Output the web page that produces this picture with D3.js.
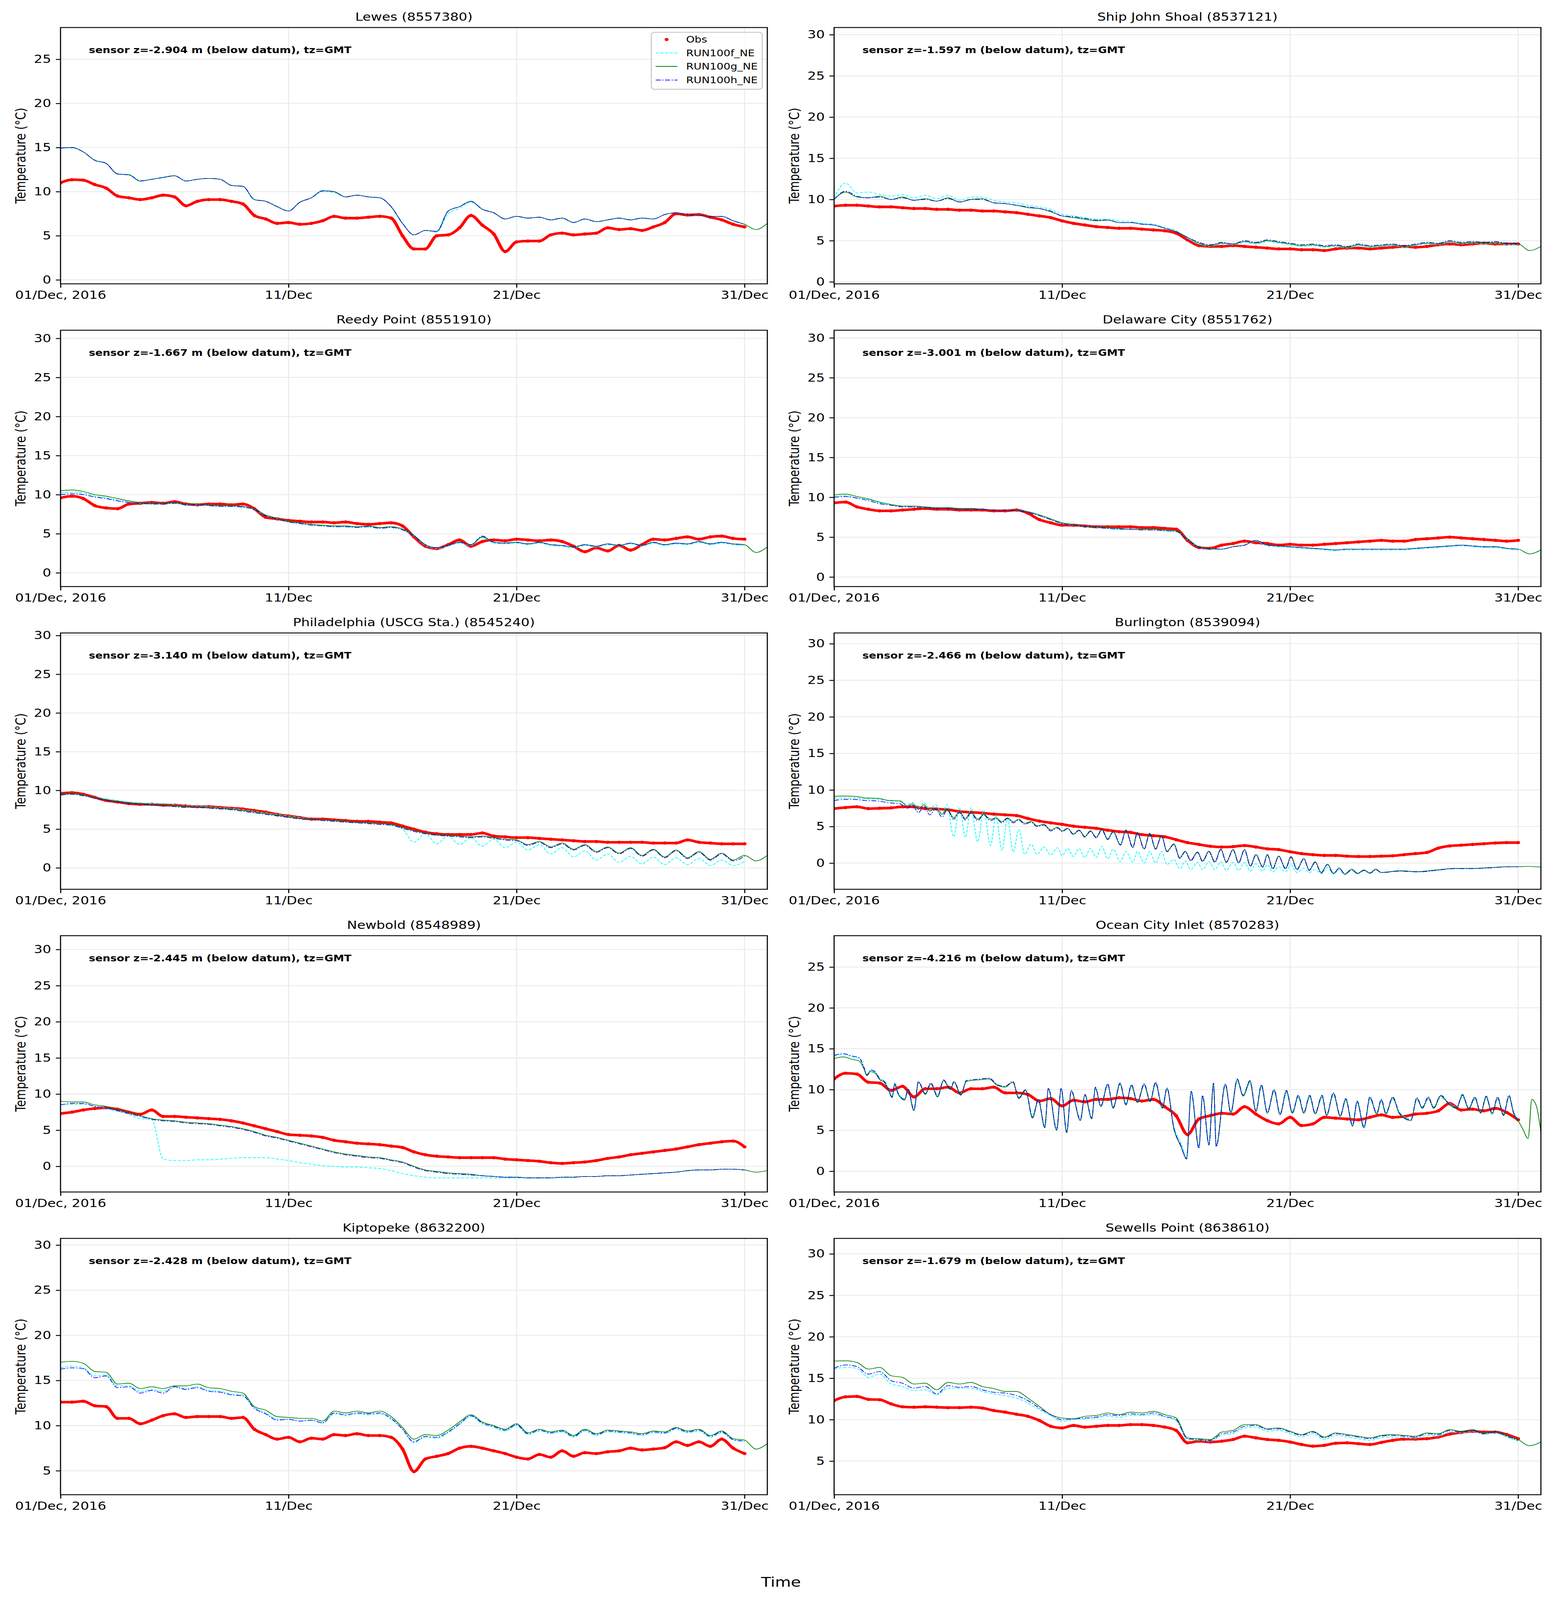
<!DOCTYPE html>
<html><head><meta charset="utf-8">
<script src="https://cdn.jsdelivr.net/npm/d3@7"></script>
<style>
html,body{margin:0;padding:0;background:#fff;overflow:hidden;width:100vw;height:100vh}
#fig{display:block;width:100vw;height:100vh}
</style>
</head><body>
<svg id="fig" viewBox="0 0 4000 5000" preserveAspectRatio="none" xmlns="http://www.w3.org/2000/svg"></svg>
<script>
// ---------------- DATA ----------------
const halfDays = [0,0.5,1,1.5,2,2.5,3,3.5,4,4.5, 5,5.5,6,6.5,7,7.5,8,8.5,9,9.5,
  10,10.5,11,11.5,12,12.5,13,13.5,14,14.5, 15,15.5,16,16.5,17,17.5,18,18.5,19,19.5,
  20,20.5,21,21.5,22,22.5,23,23.5,24,24.5, 25,25.5,26,26.5,27,27.5,28,28.5,29,29.5, 30,30.5,31];

const xTickDays = [0, 10, 20, 30];
const xTickLabels = ["01/Dec, 2016", "11/Dec", "21/Dec", "31/Dec"];
const yTickCandidates = [0, 5, 10, 15, 20, 25, 30];
const seriesNames = ["Obs", "RUN100f_NE", "RUN100g_NE", "RUN100h_NE"];

const titles = ["Lewes (8557380)", "Ship John Shoal (8537121)", "Reedy Point (8551910)", "Delaware City (8551762)",
  "Philadelphia (USCG Sta.) (8545240)", "Burlington (8539094)", "Newbold (8548989)", "Ocean City Inlet (8570283)",
  "Kiptopeke (8632200)", "Sewells Point (8638610)"];
const sensorDepths = ["-2.904", "-1.597", "-1.667", "-3.001", "-3.140", "-2.466", "-2.445", "-4.216", "-2.428", "-1.679"];
const yDomains = [[-0.45, 28.6], [-0.24, 30.87], [-1.76, 31.04], [-1.2, 30.96], [-2.77, 30.33],
  [-3.58, 31.47], [-3.55, 31.91], [-2.54, 28.84], [2.34, 30.74], [0.94, 31.87]];

// Lewes
const lewesObs = [11.0,11.35,11.3,10.8,10.4,9.5,9.3,9.1,9.3,9.6, 9.4,8.4,8.9,9.1,9.1,8.9,8.6,7.3,6.9,6.4,
  6.5,6.3,6.4,6.7,7.2,7.0,7.0,7.1,7.2,7.0, 5.0,3.5,3.5,5.0,5.1,5.9,7.3,6.2,5.2,3.2,
  4.3,4.4,4.4,5.1,5.3,5.1,5.2,5.3,5.9,5.7, 5.8,5.6,6.0,6.5,7.5,7.35,7.4,7.1,6.8,6.3, 6.0];
const lewesF = [14.9,14.95,14.5,13.6,13.2,12.0,11.95,11.25,11.4,11.65, 11.8,11.2,11.4,11.5,11.4,10.7,10.6,9.1,8.9,8.3,
  7.8,8.8,9.3,10.0,9.9,9.4,9.6,9.4,9.3,8.3, 6.4,5.1,5.6,5.4,7.5,8.1,8.8,8.0,7.6,6.9,
  7.2,7.0,7.1,6.8,7.0,6.5,6.9,6.6,6.8,7.0, 6.8,7.0,6.9,7.4,7.6,7.4,7.3,7.2,7.2,6.7, 6.3];
const lewesG = [14.95,15.0,14.5,13.55,13.2,12.0,11.9,11.2,11.4,11.6, 11.8,11.2,11.4,11.5,11.4,10.7,10.6,9.1,8.9,8.3,
  7.8,8.8,9.3,10.1,10.0,9.4,9.6,9.4,9.3,8.3, 6.4,5.1,5.6,5.5,7.8,8.3,8.9,8.0,7.6,6.9,
  7.2,7.0,7.1,6.8,7.0,6.5,6.9,6.6,6.8,7.0, 6.8,7.0,6.9,7.4,7.6,7.4,7.3,7.2,7.2,6.7, 6.3,5.7,6.4];
const lewesH = [14.95,15.0,14.5,13.55,13.2,12.0,11.9,11.2,11.4,11.6, 11.8,11.2,11.4,11.5,11.4,10.7,10.6,9.1,8.9,8.3,
  7.8,8.8,9.3,10.1,10.0,9.4,9.6,9.4,9.3,8.3, 6.4,5.1,5.6,5.5,7.8,8.3,8.9,8.0,7.6,6.9,
  7.2,7.0,7.1,6.8,7.0,6.5,6.9,6.6,6.8,7.0, 6.8,7.0,6.9,7.4,7.6,7.4,7.3,7.2,7.2,6.7, 6.3];

// Ship John Shoal
const sjsObs = [9.2,9.3,9.3,9.2,9.1,9.1,9.0,8.9,8.9,8.8, 8.8,8.7,8.7,8.6,8.6,8.5,8.4,8.2,8.0,7.8,
  7.4,7.1,6.9,6.7,6.6,6.5,6.5,6.4,6.3,6.2, 5.9,5.1,4.4,4.3,4.3,4.4,4.3,4.2,4.1,4.0,
  4.0,3.9,3.9,3.8,4.0,4.1,4.1,4.0,4.1,4.2, 4.3,4.2,4.3,4.5,4.6,4.5,4.6,4.7,4.6,4.6, 4.6];
const sjsF = [10.2,12.0,10.8,10.9,10.6,10.4,10.6,10.2,10.5,10.1, 10.5,9.9,10.3,10.3,9.9,9.7,9.6,9.3,9.1,8.8,
  8.2,8.0,7.8,7.6,7.6,7.4,7.3,7.1,7.0,6.6, 6.2,5.3,4.6,4.3,4.6,4.5,4.8,4.6,4.9,4.7,
  4.5,4.3,4.4,4.2,4.3,4.1,4.4,4.2,4.3,4.4, 4.2,4.4,4.6,4.5,4.8,4.6,4.7,4.6,4.7,4.5, 4.5];
const sjsG = [10.0,10.9,10.3,10.2,10.4,10.0,10.3,9.9,10.1,9.8, 10.2,9.7,10.0,10.1,9.6,9.5,9.3,9.0,8.9,8.5,
  8.0,7.8,7.6,7.4,7.5,7.2,7.2,7.0,6.9,6.5, 6.1,5.4,4.7,4.4,4.7,4.6,4.9,4.7,5.0,4.8,
  4.6,4.4,4.5,4.3,4.4,4.2,4.5,4.3,4.4,4.5, 4.3,4.5,4.7,4.6,4.9,4.7,4.8,4.7,4.8,4.6, 4.6,3.8,4.3];
const sjsH = [10.0,11.0,10.4,10.2,10.3,10.0,10.2,9.9,10.0,9.8, 10.1,9.7,10.0,10.0,9.6,9.5,9.3,9.1,8.9,8.6,
  8.0,7.9,7.7,7.5,7.5,7.2,7.2,7.0,6.9,6.5, 6.1,5.4,4.8,4.5,4.8,4.6,5.0,4.8,5.1,4.9,
  4.7,4.5,4.6,4.4,4.5,4.3,4.6,4.4,4.5,4.6, 4.4,4.6,4.8,4.7,5.0,4.8,4.9,4.8,4.9,4.7, 4.7];

// Reedy Point
const reedyObs = [9.6,9.8,9.5,8.6,8.3,8.2,8.8,8.9,9.0,8.9, 9.1,8.8,8.7,8.8,8.8,8.7,8.8,8.2,7.1,6.9,
  6.7,6.6,6.5,6.5,6.4,6.5,6.3,6.2,6.3,6.4, 6.0,4.6,3.4,3.1,3.6,4.2,3.4,4.0,4.2,4.1,
  4.3,4.2,4.1,4.2,4.0,3.4,2.7,3.2,2.8,3.5, 2.9,3.6,4.3,4.2,4.4,4.6,4.3,4.6,4.7,4.4, 4.3];
const reedyF = [10.2,10.3,10.2,9.8,9.6,9.3,9.1,8.9,8.8,8.8, 8.9,8.7,8.7,8.6,8.5,8.5,8.4,8.1,7.3,6.9,
  6.5,6.3,6.1,6.0,5.9,5.9,5.8,5.9,5.7,5.8, 5.5,4.7,3.5,3.1,3.4,3.8,3.5,4.5,3.8,3.7,
  3.8,3.6,3.8,3.5,3.4,3.2,3.5,3.3,3.6,3.4, 3.7,3.4,3.8,3.5,3.7,3.6,3.9,3.6,3.8,3.6, 3.5];
const reedyG = [10.5,10.6,10.4,10.0,9.8,9.5,9.2,9.0,8.9,8.9, 9.0,8.8,8.8,8.7,8.6,8.6,8.5,8.2,7.4,7.0,
  6.6,6.4,6.2,6.1,6.0,6.0,5.9,6.0,5.8,5.9, 5.6,4.8,3.6,3.2,3.5,3.9,3.6,4.6,3.9,3.8,
  3.9,3.7,3.9,3.6,3.5,3.3,3.6,3.4,3.7,3.5, 3.8,3.5,3.9,3.6,3.8,3.7,4.0,3.7,3.9,3.7, 3.6,2.6,3.3];
const reedyH = [10.0,10.1,10.0,9.7,9.5,9.2,9.0,8.9,8.8,8.8, 8.9,8.7,8.7,8.6,8.5,8.5,8.4,8.1,7.3,6.9,
  6.5,6.3,6.1,6.0,5.9,5.9,5.8,5.9,5.7,5.8, 5.5,4.7,3.6,3.2,3.5,3.9,3.6,4.7,3.9,3.8,
  3.9,3.7,3.9,3.6,3.5,3.3,3.6,3.4,3.7,3.5, 3.8,3.5,3.9,3.6,3.8,3.7,4.0,3.7,3.9,3.7, 3.6];

// Delaware City
const delObs = [9.3,9.4,8.8,8.5,8.3,8.3,8.4,8.5,8.6,8.5, 8.5,8.4,8.4,8.4,8.3,8.3,8.4,8.0,7.2,6.8,
  6.5,6.5,6.4,6.3,6.3,6.3,6.3,6.2,6.2,6.1, 6.0,4.6,3.7,3.6,4.0,4.2,4.5,4.3,4.2,4.0,
  4.1,4.0,4.0,4.1,4.2,4.3,4.4,4.5,4.6,4.5, 4.5,4.7,4.8,4.9,5.0,4.9,4.8,4.7,4.6,4.5, 4.6];
const delF = [10.1,10.2,9.9,9.7,9.3,9.0,8.9,8.8,8.7,8.7, 8.7,8.6,8.6,8.5,8.4,8.4,8.4,8.2,7.7,7.2,
  6.7,6.5,6.3,6.2,6.1,6.0,6.0,5.9,5.9,5.8, 5.7,4.7,3.7,3.5,3.5,3.8,4.0,4.5,3.9,3.8,
  3.7,3.6,3.5,3.4,3.3,3.4,3.4,3.4,3.4,3.4, 3.4,3.5,3.6,3.7,3.8,3.9,3.8,3.7,3.7,3.5, 3.4];
const delG = [10.3,10.4,10.1,9.8,9.4,9.1,8.9,8.9,8.8,8.7, 8.7,8.6,8.6,8.5,8.4,8.4,8.4,8.2,7.8,7.3,
  6.8,6.6,6.4,6.3,6.2,6.1,6.0,6.0,6.0,5.9, 5.8,4.8,3.8,3.6,3.5,3.8,4.0,4.6,4.0,3.9,
  3.8,3.7,3.6,3.5,3.4,3.5,3.5,3.5,3.5,3.5, 3.5,3.6,3.7,3.8,3.9,4.0,3.9,3.8,3.8,3.6, 3.5,2.9,3.4];
const delH = [10.0,10.1,9.9,9.6,9.2,9.0,8.8,8.8,8.7,8.6, 8.6,8.5,8.5,8.5,8.4,8.4,8.3,8.1,7.7,7.2,
  6.7,6.5,6.3,6.2,6.1,6.0,6.0,5.9,5.9,5.8, 5.7,4.7,3.7,3.5,3.5,3.8,4.0,4.6,4.0,3.9,
  3.8,3.7,3.6,3.5,3.4,3.5,3.5,3.5,3.5,3.5, 3.5,3.6,3.7,3.8,3.9,4.0,3.9,3.8,3.8,3.6, 3.5];

// Philadelphia
const phlObs = [9.6,9.7,9.5,9.1,8.7,8.5,8.3,8.2,8.2,8.1, 8.1,8.0,7.9,7.9,7.8,7.7,7.6,7.4,7.2,6.9,
  6.7,6.5,6.3,6.3,6.2,6.1,6.0,6.0,5.9,5.8, 5.4,5.0,4.6,4.4,4.3,4.3,4.3,4.5,4.1,4.0,
  3.9,3.9,3.8,3.7,3.6,3.5,3.4,3.4,3.3,3.3, 3.3,3.3,3.2,3.2,3.2,3.6,3.3,3.2,3.1,3.1, 3.1];
const phlF = [9.4,9.5,9.4,9.1,8.9,8.7,8.5,8.4,8.3,8.3, 8.2,8.1,8.0,7.9,7.8,7.7,7.5,7.3,7.1,6.9,
  6.7,6.5,6.3,6.2,6.1,6.0,5.9,5.8,5.7,5.5, 5.0,3.3,4.4,3.1,4.1,3.0,3.9,2.8,3.7,2.6,
  3.3,2.3,3.0,1.8,2.6,1.4,2.2,1.0,1.8,0.7, 1.5,0.5,1.4,0.4,1.3,0.4,1.2,0.3,1.0,0.3, 0.8];
const phlG = [9.6,9.6,9.4,9.1,8.8,8.6,8.4,8.3,8.2,8.1, 8.0,7.9,7.9,7.8,7.7,7.6,7.4,7.2,7.0,6.8,
  6.6,6.4,6.3,6.2,6.1,6.0,5.9,5.8,5.7,5.6, 5.2,4.8,4.5,4.3,4.2,4.1,4.0,4.1,3.9,3.7,
  3.6,3.0,3.4,2.7,3.2,2.4,3.0,2.1,2.7,1.9, 2.6,1.6,2.4,1.4,2.3,1.3,2.1,1.1,1.9,1.0, 1.6,0.9,1.6];
const phlH = [9.4,9.5,9.3,9.0,8.7,8.5,8.3,8.2,8.1,8.0, 7.9,7.8,7.8,7.7,7.6,7.5,7.3,7.1,6.9,6.7,
  6.5,6.3,6.2,6.1,6.0,5.9,5.8,5.7,5.6,5.5, 5.1,4.7,4.4,4.2,4.1,4.0,3.9,4.0,3.8,3.6,
  3.5,2.9,3.3,2.6,3.1,2.3,2.9,2.0,2.6,1.8, 2.5,1.5,2.3,1.3,2.2,1.2,2.0,1.0,1.8,0.9, 1.5];

// Burlington (model times are tidal peaks / troughs)
const burDays = [0,0.4,0.9,1.4,1.9,2.4,2.9,3.2,3.44,3.7, 3.94,4.2,4.44,4.74,4.96,5.24,5.5,5.76,6.0,6.3,
  6.56,6.86,7.1,7.36,7.6,7.86,8.1,8.36,8.64,8.9, 9.2,9.5,9.8,10.0,10.24,10.5,10.74,11.0,11.24,11.5,
  11.74,12.0,12.24,12.56,12.8,13.1,13.3,13.6,13.84,14.1, 14.36,14.6,14.9,15.16,15.4,15.64,15.94,16.16,16.44,16.7,
  16.96,17.2,17.5,17.74,18.0,18.26,18.5,18.8,19.0,19.24, 19.5,19.8,20.04,20.3,20.6,20.84,21.1,21.36,21.64,21.9,
  22.16,22.4,22.7,22.96,23.24,23.5,23.76,24.0,24.8,25.6, 26.4,27.2,28.0,28.8,29.6,30.0,30.4,31.0];
const burObs = [7.45,7.6,7.7,7.45,7.5,7.55,7.7,7.7,7.45,7.4, 7.3,7.05,6.95,6.85,6.7,6.6,6.5,6.1,5.75,5.5,
  5.3,5.05,4.9,4.75,4.5,4.3,4.2,3.9,3.75,3.6, 3.2,2.8,2.55,2.3,2.2,2.25,2.4,2.2,1.95,1.85,
  1.55,1.3,1.15,1.05,1.05,0.95,0.9,0.9,0.95,1.0, 1.15,1.3,1.45,2.05,2.35,2.45,2.55,2.65,2.75,2.8, 2.8];
const burF = [8.85,8.9,8.9,8.8,8.75,8.5,8.4,8.0,8.3,7.6, 8.3,7.3,8.0,6.8,8.0,3.6,7.6,3.5,7.6,2.9,
  7.2,2.4,6.5,1.7,6.1,1.5,4.6,1.2,2.6,1.2, 2.2,1.1,2.1,1.0,2.0,0.9,2.0,0.75,2.0,0.75,
  2.3,0.6,1.9,0.2,1.6,0.1,1.6,0.0,1.6,0.0, 1.6,-0.2,0.5,-0.8,0.3,-0.9,0.1,-0.9,0.2,-0.9,
  0.2,-1.0,0.1,-1.0,0.1,-1.1,-0.1,-1.1,-0.2,-1.2, -0.5,-1.2,-0.3,-1.3,-0.7,-1.3,-0.9,-1.45,-0.6,-1.5,
  -0.9,-1.55,-1.0,-1.45,-1.0,-1.4,-0.9,-1.3,-1.1,-1.2, -1.0,-0.75,-0.75,-0.65,-0.5,-0.5];
const burG = [9.13,9.17,9.13,8.9,8.86,8.57,8.5,7.8,8.1,7.34, 8.0,7.1,7.56,6.67,7.45,6.2,7.0,6.1,7.0,6.0,
  6.67,6.0,6.2,5.66,6.2,5.66,6.0,5.44,5.7,5.1, 5.3,4.55,4.9,4.4,4.77,3.98,4.54,3.65,4.43,3.53,
  4.65,3.31,4.32,2.53,4.54,2.19,4.2,1.97,4.1,1.97, 3.76,1.63,2.64,0.74,1.63,0.4,1.52,0.29,1.63,0.18,
  1.92,0.18,1.86,0.07,1.86,-0.38,1.19,-0.49,1.19,-0.72, 0.96,-0.72,0.89,-0.83,0.63,-0.94,0.18,-1.28,-0.16,-1.39,
  -0.67,-1.5,-0.83,-1.39,-0.94,-1.34,-0.83,-1.28,-1.05,-1.16, -0.94,-0.72,-0.72,-0.6,-0.49,-0.49,-0.45,-0.54];
const burH = [8.55,8.7,8.7,8.55,8.5,8.25,8.1,7.5,7.9,6.9, 7.8,6.6,7.4,6.3,7.3,6.0,6.9,5.9,6.9,5.8,
  6.6,5.8,6.1,5.5,6.1,5.5,5.9,5.3,5.6,5.0, 5.2,4.4,4.8,4.3,4.7,3.9,4.45,3.55,4.35,3.45,
  4.55,3.2,4.25,2.45,4.45,2.1,4.1,1.9,4.0,1.9, 3.7,1.55,2.55,0.65,1.55,0.3,1.45,0.2,1.55,0.1,
  1.85,0.1,1.8,0.0,1.8,-0.45,1.1,-0.55,1.1,-0.8, 0.9,-0.8,0.8,-0.9,0.55,-1.0,0.1,-1.35,-0.2,-1.45,
  -0.7,-1.55,-0.9,-1.45,-1.0,-1.4,-0.9,-1.3,-1.1,-1.2, -1.0,-0.75,-0.75,-0.65,-0.5,-0.5];

// Newbold
const nbObs = [7.3,7.5,7.8,8.0,8.1,7.9,7.5,7.2,7.8,6.9, 6.9,6.8,6.7,6.6,6.5,6.3,6.0,5.6,5.2,4.8,
  4.4,4.3,4.2,4.0,3.6,3.4,3.2,3.1,3.0,2.8, 2.6,2.0,1.6,1.4,1.3,1.2,1.2,1.2,1.2,1.0,
  0.9,0.8,0.7,0.5,0.4,0.5,0.6,0.8,1.1,1.3, 1.6,1.8,2.0,2.2,2.4,2.7,3.0,3.2,3.4,3.5, 2.7];
const nbF = [8.5,8.6,8.6,8.3,8.0,7.6,7.2,6.6,6.5,1.0, 0.8,0.8,0.9,0.9,1.0,1.1,1.2,1.2,1.2,1.0,
  0.8,0.5,0.3,0.1,0.0,-0.1,-0.1,-0.2,-0.3,-0.6, -1.0,-1.3,-1.5,-1.6,-1.6,-1.6,-1.6,-1.6,-1.6,-1.6,
  -1.6,-1.6,-1.6,-1.6,-1.5,-1.5,-1.4,-1.4,-1.3,-1.3, -1.2,-1.1,-1.0,-0.9,-0.8,-0.6,-0.5,-0.5,-0.4,-0.4, -0.5];
const nbG = [9.0,8.9,8.9,8.5,8.3,7.9,7.5,7.0,6.6,6.4, 6.3,6.1,6.0,5.9,5.7,5.5,5.2,4.8,4.3,4.0,
  3.6,3.2,2.8,2.4,2.0,1.7,1.5,1.3,1.2,0.9, 0.6,0.0,-0.5,-0.7,-0.9,-1.0,-1.1,-1.3,-1.4,-1.5,
  -1.5,-1.6,-1.6,-1.6,-1.5,-1.5,-1.4,-1.4,-1.3,-1.3, -1.2,-1.1,-1.0,-0.9,-0.8,-0.6,-0.5,-0.5,-0.4,-0.4, -0.5,-0.8,-0.6];
const nbH = [8.5,8.7,8.7,8.3,8.1,7.7,7.3,6.9,6.5,6.3, 6.2,6.0,5.9,5.8,5.6,5.4,5.1,4.7,4.2,3.9,
  3.5,3.1,2.7,2.3,1.9,1.6,1.4,1.2,1.1,0.8, 0.5,-0.1,-0.6,-0.8,-1.0,-1.1,-1.2,-1.3,-1.4,-1.5,
  -1.5,-1.6,-1.6,-1.6,-1.5,-1.5,-1.4,-1.4,-1.3,-1.3, -1.2,-1.1,-1.0,-0.9,-0.8,-0.6,-0.5,-0.5,-0.4,-0.4, -0.5];

// Ocean City Inlet (model times are tidal peaks / troughs)
const ocDays = [0,0.4,0.8,1.1,1.3,1.44,1.6,1.8,2.0,2.2, 2.4,2.54,2.66,2.8,3.1,3.24,3.5,3.7,4.0,4.24,
  4.54,4.8,5.1,5.26,5.56,5.8,6.4,6.8,7.16,7.5, 7.84,8.1,8.4,8.7,8.96,9.24,9.4,9.76,9.96,10.2,
  10.4,10.8,11.0,11.3,11.46,11.7,12.0,12.24,12.54,12.8, 13.04,13.3,13.6,13.86,14.1,14.4,14.6,14.9,15.2,15.46,
  15.66,16.0,16.16,16.44,16.64,16.76,17.16,17.4,17.68,17.94, 18.24,18.5,18.74,19.0,19.3,19.56,19.84,20.1,20.36,20.6,
  20.86,21.1,21.4,21.6,21.9,22.2,22.44,22.74,22.94,23.24, 23.5,23.8,24.0,24.2,24.5,24.8,25.3,25.56,25.8,26.06,
  26.3,26.6,27.0,27.3,27.56,27.84,28.1,28.36,28.6,28.86, 29.1,29.36,29.6,29.8,30.0,30.2,30.44,30.6,30.8,31.0];
const ocObs = [11.3,12.0,11.9,10.9,10.8,9.9,10.4,9.1,10.1,10.1, 10.3,9.6,10.1,10.1,10.3,9.6,9.6,9.4,8.6,8.9,
  8.0,8.7,8.5,8.8,8.8,9.0,8.9,8.6,8.8,7.9, 6.8,4.5,6.4,6.8,7.1,7.0,7.9,7.0,6.2,5.8,
  6.6,5.6,5.8,6.6,6.5,6.4,6.3,6.6,6.9,6.6, 6.7,7.0,7.1,7.4,8.3,7.5,7.6,7.4,7.7,7.2, 6.3];
const ocF = [14.1,14.3,14.0,13.8,12.7,11.8,12.3,12.1,11.3,11.1, 10.0,9.2,10.8,9.6,8.9,10.0,7.6,10.9,9.5,10.7,
  9.3,11.1,10.1,10.9,9.5,11.0,11.2,11.3,10.6,10.4, 10.9,9.1,9.9,6.8,8.7,5.6,10.0,5.3,10.0,5.0,
  9.8,6.4,9.3,6.6,10.1,8.1,10.5,7.9,10.6,8.3, 10.4,8.6,10.5,8.7,10.7,7.9,10.0,5.5,3.5,1.8,
  9.5,3.1,9.1,3.4,10.5,3.2,10.5,7.3,11.0,9.2, 10.8,7.5,10.3,7.3,9.7,7.1,9.6,7.3,9.0,7.3,
  9.0,7.2,9.0,7.0,9.3,6.9,8.6,5.8,8.4,5.6, 8.8,7.2,8.6,7.2,8.8,7.2,6.4,8.7,7.9,8.8,
  7.9,9.0,8.3,7.9,9.1,7.8,8.8,7.3,8.9,7.2, 8.8,7.0,9.0,7.3,6.4];
const ocG = [13.8,14.0,13.7,13.5,12.6,11.7,12.2,12.0,11.2,10.9, 9.8,9.0,10.6,9.5,8.7,10.0,7.4,10.9,9.4,10.7,
  9.1,11.1,10.0,10.9,9.3,11.0,11.2,11.3,10.5,10.3, 10.9,8.9,9.9,6.5,8.7,5.3,10.1,5.0,10.1,4.7,
  9.8,6.2,9.3,6.4,10.2,7.9,10.6,7.7,10.7,8.1, 10.5,8.4,10.6,8.5,10.8,7.7,10.1,5.2,3.1,1.6,
  9.7,2.9,9.2,3.3,10.7,3.1,10.6,7.1,11.2,9.2, 11.0,7.3,10.5,7.1,9.9,6.9,9.8,7.1,9.2,7.1,
  9.2,7.0,9.2,6.8,9.5,6.7,8.8,5.5,8.5,5.3, 9.0,7.0,8.7,7.0,9.0,7.0,6.2,8.9,7.7,9.0,
  7.7,9.2,8.1,7.7,9.3,7.6,9.0,7.1,9.1,7.0, 9.0,6.8,9.2,7.1,6.2,5.2,4.0,8.8,8.0,4.8];
const ocH = [14.2,14.4,14.1,13.9,12.8,11.8,12.4,12.2,11.3,11.0, 9.9,9.1,10.7,9.6,8.8,10.1,7.5,11.0,9.5,10.8,
  9.2,11.2,10.1,11.0,9.4,11.1,11.3,11.4,10.6,10.4, 11.0,9.0,10.0,6.6,8.8,5.4,10.2,5.1,10.2,4.8,
  9.9,6.3,9.4,6.5,10.3,8.0,10.7,7.8,10.8,8.2, 10.6,8.5,10.7,8.6,10.9,7.8,10.2,5.3,3.2,1.5,
  9.8,2.8,9.3,3.2,10.8,3.0,10.7,7.2,11.3,9.3, 11.1,7.4,10.6,7.2,10.0,7.0,9.9,7.2,9.3,7.2,
  9.3,7.1,9.3,6.9,9.6,6.8,8.9,5.6,8.6,5.4, 9.1,7.1,8.8,7.1,9.1,7.1,6.3,9.0,7.8,9.1,
  7.8,9.3,8.2,7.8,9.4,7.7,9.1,7.2,9.2,7.1, 9.1,6.9,9.3,7.2,6.3];

// Kiptopeke
const kipObs = [12.6,12.6,12.7,12.2,12.1,10.8,10.8,10.2,10.6,11.1, 11.3,10.9,11.0,11.0,11.0,10.8,10.9,9.6,9.0,8.5,
  8.7,8.2,8.6,8.5,9.0,8.9,9.1,8.9,8.9,8.7, 7.4,4.9,6.3,6.6,6.9,7.5,7.7,7.5,7.2,6.9,
  6.5,6.3,6.8,6.5,7.2,6.6,7.0,6.9,7.1,7.2, 7.5,7.3,7.4,7.55,8.2,7.8,8.2,7.7,8.5,7.5, 6.9];
const kipF = [16.4,16.6,16.4,15.5,15.6,14.4,14.4,13.8,14.0,13.8, 14.3,14.1,14.3,13.9,13.8,13.5,13.4,12.0,11.4,10.7,
  10.7,10.5,10.6,10.3,11.3,11.1,11.3,11.2,11.3,10.7, 9.6,8.1,8.7,8.6,9.2,10.1,11.0,10.2,9.8,9.4,
  10.0,9.0,9.4,9.1,9.3,8.7,9.4,8.9,9.3,9.2, 9.1,8.9,9.2,9.1,9.6,9.2,9.4,8.7,9.2,8.4, 8.2];
const kipG = [17.03,17.12,16.9,16.0,15.9,14.6,14.7,14.1,14.3,14.1, 14.4,14.4,14.6,14.2,14.1,13.8,13.6,12.1,11.7,11.0,
  10.9,10.8,10.8,10.5,11.6,11.4,11.6,11.4,11.6,11.0, 9.8,8.5,9.0,8.9,9.5,10.4,11.2,10.4,10.0,9.6,
  10.2,9.2,9.6,9.3,9.5,8.9,9.6,9.1,9.5,9.4, 9.3,9.1,9.4,9.3,9.8,9.4,9.6,8.9,9.4,8.55, 8.4,7.4,8.0];
const kipH = [16.25,16.4,16.3,15.3,15.5,14.2,14.3,13.6,13.9,13.6, 14.3,14.0,14.2,13.8,13.7,13.4,13.3,11.9,11.3,10.6,
  10.7,10.5,10.6,10.3,11.4,11.2,11.4,11.3,11.4,10.8, 9.6,8.2,8.8,8.7,9.3,10.2,11.1,10.3,9.9,9.5,
  10.1,9.1,9.5,9.2,9.4,8.8,9.5,9.0,9.4,9.3, 9.2,9.0,9.3,9.2,9.7,9.3,9.5,8.8,9.3,8.45, 8.3];

// Sewells Point
const sewObs = [12.3,12.75,12.8,12.45,12.4,11.9,11.55,11.5,11.55,11.5, 11.45,11.45,11.5,11.4,11.1,10.9,10.65,10.4,9.9,9.2,
  9.0,9.3,9.1,9.2,9.3,9.3,9.4,9.4,9.3,9.1, 8.7,7.2,7.4,7.3,7.4,7.6,8.0,7.8,7.6,7.5,
  7.3,7.0,6.8,6.9,7.15,7.2,7.1,7.0,7.25,7.5, 7.65,7.65,7.7,7.9,8.25,8.45,8.6,8.5,8.5,8.2, 7.7];
const sewF = [16.1,16.3,16.2,15.1,15.5,14.3,14.0,13.5,13.6,13.0, 13.8,13.8,13.8,13.4,13.1,12.9,12.6,12.0,11.2,10.5,
  9.8,10.0,10.1,10.2,10.4,10.3,10.5,10.5,10.6,10.3, 9.9,7.6,7.5,7.4,8.1,8.3,9.0,9.1,8.6,8.7,
  8.3,7.9,8.3,7.6,8.1,7.9,7.7,7.5,7.8,7.9, 7.8,7.7,8.1,8.0,8.5,8.4,8.6,8.2,8.4,7.9, 7.4];
const sewG = [17.07,17.1,16.9,16.1,16.3,15.3,15.1,14.3,14.4,13.6, 14.5,14.3,14.5,14.0,13.75,13.4,13.4,12.6,11.6,10.6,
  10.2,10.1,10.4,10.5,10.8,10.6,10.9,10.8,11.0,10.6, 10.2,7.8,7.7,7.6,8.5,8.7,9.4,9.4,8.9,9.0,
  8.6,8.2,8.6,7.9,8.4,8.2,8.0,7.8,8.1,8.2, 8.1,8.0,8.4,8.3,8.8,8.6,8.8,8.4,8.6,8.1, 7.6,6.85,7.3];
const sewH = [16.2,16.6,16.4,15.5,15.8,14.7,14.4,13.8,14.0,13.1, 14.1,13.9,14.0,13.6,13.3,13.2,12.9,12.3,11.4,10.6,
  10.0,10.1,10.2,10.3,10.6,10.5,10.7,10.6,10.8,10.4, 10.0,7.7,7.6,7.5,8.3,8.5,9.2,9.3,8.8,8.9,
  8.5,8.1,8.5,7.8,8.3,8.1,7.9,7.7,8.0,8.1, 8.0,7.9,8.3,8.2,8.7,8.5,8.7,8.3,8.5,8.0, 7.5];

// table built from the arrays above (row-major panel order)
const panels = [
  {obs: lewesObs, mt: halfDays, f: lewesF, g: lewesG, h: lewesH},
  {obs: sjsObs,   mt: halfDays, f: sjsF,   g: sjsG,   h: sjsH},
  {obs: reedyObs, mt: halfDays, f: reedyF, g: reedyG, h: reedyH},
  {obs: delObs,   mt: halfDays, f: delF,   g: delG,   h: delH},
  {obs: phlObs,   mt: halfDays, f: phlF,   g: phlG,   h: phlH},
  {obs: burObs,   mt: burDays,  f: burF,   g: burG,   h: burH},
  {obs: nbObs,    mt: halfDays, f: nbF,    g: nbG,    h: nbH},
  {obs: ocObs,    mt: ocDays,   f: ocF,    g: ocG,    h: ocH},
  {obs: kipObs,   mt: halfDays, f: kipF,   g: kipG,   h: kipH},
  {obs: sewObs,   mt: halfDays, f: sewF,   g: sewG,   h: sewH}
];
panels.forEach((p, i) => { p.title = titles[i]; p.sensor = sensorDepths[i]; p.yDomain = yDomains[i]; });

// ---------------- LAYOUT / STYLE ----------------
const FONT = "DejaVu Sans";
const colLeft = [155, 2136], panelW = 1810, panelH = 801, rowTop0 = 86, rowStep = 946;
const styles = {
  f: {color: "#00ffff", dash: "8,4", width: 2},
  g: {color: "#008000", dash: null, width: 2},
  h: {color: "#0000ff", dash: "13,4,3,4", width: 2}
};
const gridColor = "#ebebeb";

const DAY0 = Date.UTC(2016, 11, 1);
const toDate = d => new Date(DAY0 + d * 864e5);

const svg = d3.select("#fig").style("font-family", FONT);
svg.append("rect").attr("width", 4000).attr("height", 5000).attr("fill", "#fff");

const x = d3.scaleUtc().domain([toDate(0), toDate(31)]).range([0, panelW]);

panels.forEach((p, i) => {
  const col = i % 2, row = Math.floor(i / 2);
  const left = colLeft[col], top = rowTop0 + row * rowStep;
  const y = d3.scaleLinear().domain(p.yDomain).range([panelH, 0]);
  const yTicks = yTickCandidates.filter(v => v >= p.yDomain[0] && v <= p.yDomain[1]);
  const g = svg.append("g").attr("transform", `translate(${left},${top})`);
  const clipId = "clip" + i;
  g.append("clipPath").attr("id", clipId).append("rect").attr("width", panelW).attr("height", panelH);

  // grid
  const grid = g.append("g");
  grid.selectAll(".gy").data(yTicks).join("line")
    .attr("x1", 0).attr("x2", panelW).attr("y1", d => y(d)).attr("y2", d => y(d))
    .attr("stroke", gridColor).attr("stroke-width", 2.8);
  grid.selectAll(".gx").data(xTickDays).join("line")
    .attr("x1", d => x(toDate(d))).attr("x2", d => x(toDate(d))).attr("y1", 0).attr("y2", panelH)
    .attr("stroke", gridColor).attr("stroke-width", 2.8);

  const plot = g.append("g").attr("clip-path", `url(#${clipId})`);
  const lineFn = d3.line().x(d => x(toDate(d.t))).y(d => y(d.v)).curve(d3.curveMonotoneX);

  // observations
  const obsPts = p.obs.map((v, k) => ({t: halfDays[k], v})).filter(d => d.v != null);
  plot.append("path").datum(obsPts).attr("d", lineFn)
    .attr("fill", "none").attr("stroke", "#ff0000").attr("stroke-width", 8)
    .attr("stroke-linejoin", "round").attr("stroke-linecap", "round");
  plot.selectAll(".obs").data(obsPts).join("circle")
    .attr("cx", d => x(toDate(d.t))).attr("cy", d => y(d.v)).attr("r", 5).attr("fill", "#ff0000");

  // models
  ["f", "g", "h"].forEach(key => {
    const pts = p.mt.map((t, k) => ({t, v: p[key][k]})).filter(d => d.v != null);
    const st = styles[key];
    plot.append("path").datum(pts).attr("d", lineFn)
      .attr("fill", "none").attr("stroke", st.color).attr("stroke-width", st.width)
      .attr("stroke-dasharray", st.dash);
  });

  // axes
  const xAxis = d3.axisBottom(x).tickValues(xTickDays.map(toDate))
    .tickFormat((d, k) => xTickLabels[k]).tickSizeInner(12).tickSizeOuter(0).tickPadding(10);
  const xa = g.append("g").attr("transform", `translate(0,${panelH})`).call(xAxis);
  const yAxis = d3.axisLeft(y).tickValues(yTicks).tickSizeInner(12).tickSizeOuter(0).tickPadding(12);
  const ya = g.append("g").call(yAxis);
  [xa, ya].forEach(a => {
    a.select(".domain").remove();
    a.selectAll(".tick line").attr("stroke", "#000").attr("stroke-width", 2.8);
    a.selectAll(".tick text").attr("fill", "#000").style("font-size", "34.7px").style("font-family", FONT);
  });

  // frame
  g.append("rect").attr("width", panelW).attr("height", panelH)
    .attr("fill", "none").attr("stroke", "#000").attr("stroke-width", 2.8);

  // title
  g.append("text").attr("x", panelW / 2).attr("y", -21).attr("text-anchor", "middle")
    .style("font-size", "34.7px").text(p.title);
  // sensor annotation
  g.append("text").attr("x", 0.04 * panelW).attr("y", 0.1 * panelH)
    .style("font-size", "27.8px").style("font-weight", "bold")
    .text(`sensor z=${p.sensor} m (below datum), tz=GMT`);
  // y label
  g.append("text").attr("transform", `translate(-90,${panelH / 2}) rotate(-90)`)
    .attr("text-anchor", "middle").style("font-size", "34.7px").text("Temperature (°C)");

  // legend (first panel only)
  if (i === 0) {
    const lg = g.append("g").attr("transform", "translate(1513,15)");
    lg.append("rect").attr("width", 284).attr("height", 178).attr("rx", 8)
      .attr("fill", "#fff").attr("fill-opacity", 0.8).attr("stroke", "#cccccc").attr("stroke-width", 3);
    const rowsY = [22.5, 64.5, 106.5, 149];
    seriesNames.forEach((name, k) => {
      const yy = rowsY[k];
      if (k === 0) {
        lg.append("circle").attr("cx", 39).attr("cy", yy).attr("r", 5).attr("fill", "#ff0000");
      } else {
        const st = styles[["f", "g", "h"][k - 1]];
        lg.append("line").attr("x1", 11).attr("x2", 67).attr("y1", yy).attr("y2", yy)
          .attr("stroke", st.color).attr("stroke-width", 2.2).attr("stroke-dasharray", st.dash);
      }
      lg.append("text").attr("x", 89).attr("y", yy + 10).style("font-size", "27.8px").text(name);
    });
  }
});

// common x label
svg.append("text").attr("x", 2000).attr("y", 4958).attr("text-anchor", "middle")
  .style("font-size", "41.7px").text("Time");
</script>
</body></html>
